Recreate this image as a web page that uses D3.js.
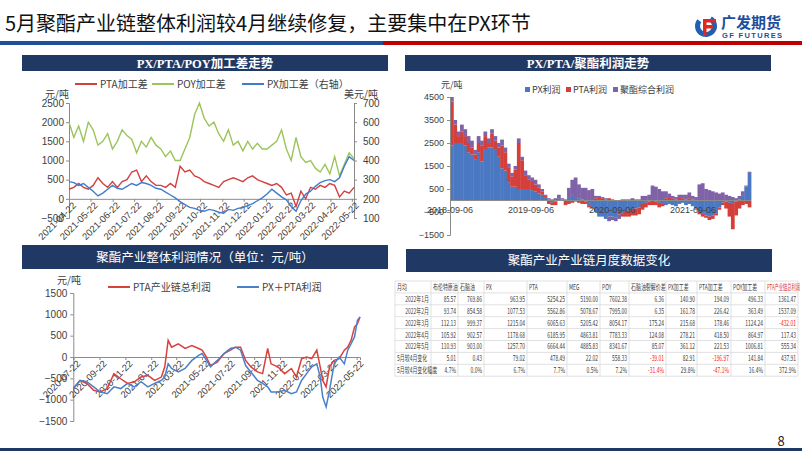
<!DOCTYPE html>
<html><head><meta charset="utf-8">
<script src="https://cdn.jsdelivr.net/npm/d3@7"></script>
<style>
body{margin:0;background:#fff;}
svg{display:block;font-family:"Noto Sans CJK SC","Noto Sans",sans-serif;}
</style></head><body>
<svg id="s" width="802" height="451"></svg>
<script>
// ---------------- DATA ----------------
const slideTitle = "5月聚酯产业链整体利润较4月继续修复，主要集中在PX环节";
const panelTitles = ["PX/PTA/POY加工差走势","PX/PTA/聚酯利润走势","聚酯产业整体利润情况（单位：元/吨）","聚酯产业产业链月度数据变化"];

// Chart 1: processing spreads (roughly weekly samples)
const c1Start = "2021-04-22", c1End = "2022-05-25";
const c1PTA = [250,300,400,300,250, 350,550,400,300,450, 300,450,500,700, 750,450,600,450,350, 350,300,400,300, 850,700,750,600,550, 450,400,350,300, 450,500,550,500,450, 550,600,500,450, 400,350,400,300,100, 150,-200,200,0, 300,250,350,300,400, 350,50,200,150,300];
const c1POY = [2000,1600,1900,1500,2000, 1800,1400,1500,1700,1300, 1500,1800,1650,1550, 1200,1500,1350,1600,1400, 1300,1100,1250,1000, 1000,1300,1600,2200,2500, 2100,1900,2000,1700, 1500,1800,1400,1500,1250, 1500,1300,1450,1300, 1300,1400,1500,1800,1300, 1000,1600,1100,950, 1000,800,700,900,650, 1100,600,900,1200,1050];
const c1PX = [290,285,270,280,260, 240,215,230,250,270, 255,250,265,280, 270,285,280,270,255, 250,235,220,205, 185,170,155,150,140, 135,145,140,130, 125,145,140,150,155, 165,175,190,205, 225,250,230,210,195, 160,135,190,225, 240,265,285,295,300, 290,310,370,420,400];
const c1XTicks = ["2021-04-22","2021-05-22","2021-06-22","2021-07-22","2021-08-22","2021-09-22","2021-10-22","2021-11-22","2021-12-22","2022-01-22","2022-02-22","2022-03-22","2022-04-22","2022-05-22"];
const c1LeftTicks = [-500,0,500,1000,1500,2000,2500];
const c1RightTicks = [100,200,300,400,500,600,700];
const c1Legend = ["PTA加工差","POY加工差","PX加工差（右轴）"];

// Chart 2: stacked profits (half-monthly samples, 2018-09 .. 2022-05)
const c2Start = "2018-09-06", c2End = "2022-05-25";
const c2PX = [2400,2500,2500,2500,2400,2100,2000,1800,
  2100,1700,2200,2300,2300,2200,1900,1400,1300,800,600,600,500,500,500,500,450,400,300,250,150,50,-100,-50,
  100,50,0,150,200,150,100,50,-50,-200,-300,-500,-700,-700,-800,-700,-700,-750,-500,-550,-500,-450,-400,-350,
  -300,-150,-100,-50,0,-50,-100,-150,-200,-150,-200,-250,-150,-100,-200,-150,-250,-350,-500,-550,-650,-700,-650,-550,
  -300,-100,-50,-100,-150,-50,50,200,600,1200];
const c2PTA = [1900,800,300,500,400,400,300,200,
  400,700,600,200,600,400,400,1000,800,650,450,750,2000,1250,600,400,400,300,250,150,50,-150,-100,-150,
  50,0,-200,-150,-100,-50,-100,-150,-100,-100,-50,100,150,100,50,100,50,0,-100,-150,-200,-250,-250,-300,
  -300,-250,-200,-150,-200,-150,-200,-100,100,150,100,50,150,100,50,100,50,-50,-100,-150,-100,-150,-150,-100,
  -100,-100,-300,-600,-1100,-600,-350,-200,-150,-300];
const c2Poly = [200,200,200,300,300,300,300,200,
  300,200,200,200,200,200,200,250,200,150,150,150,200,150,200,200,150,200,150,100,50,50,50,100,
  100,50,50,400,700,850,600,500,550,450,500,100,50,50,50,-200,-150,-150,-200,50,50,50,100,50,
  50,200,200,250,650,600,500,400,300,150,100,100,100,150,200,250,150,150,700,750,500,450,400,350,
  300,350,250,200,150,100,150,200,50,50];
const c2XTicks = ["2018-09-06","2019-09-06","2020-09-06","2021-09-06"];
const c2YTicks = [-1500,-500,500,1500,2500,3500,4500];
const c2Legend = ["PX利润","PTA利润","聚酯综合利润"];

// Chart 3: total chain profit
const c3Dates = ["2020-07-22","2020-08-07","2020-08-23","2020-09-08","2020-09-24","2020-10-10","2020-10-26","2020-11-11","2020-11-27","2020-12-13","2020-12-29","2021-01-14","2021-01-30","2021-02-15","2021-02-23","2021-03-03","2021-03-11","2021-03-27","2021-04-12","2021-04-28","2021-05-14","2021-05-22","2021-05-30","2021-06-11","2021-06-27","2021-07-13","2021-07-28","2021-08-09","2021-08-21","2021-09-02","2021-09-14","2021-09-30","2021-10-12","2021-10-24","2021-11-01","2021-11-17","2021-12-03","2021-12-19","2021-12-31","2022-01-12","2022-01-24","2022-02-05","2022-02-17","2022-02-25","2022-03-03","2022-03-11","2022-03-19","2022-03-30","2022-04-11","2022-04-23","2022-05-01","2022-05-09","2022-05-17","2022-05-24","2022-05-30"];
const c3Total = [-740,-550,-620,-780,-820,-740,-390,-510,-620,-580,-470,-430,-550,-470,-230,390,230,310,200,270,200,160,40,-200,-120,80,160,230,230,-80,-230,-350,-390,200,-160,-230,-390,-270,-470,-40,0,-40,160,-230,-550,-700,-230,-80,-40,160,230,390,700,780,940];
const c3PxPta = [-740,-550,-580,-700,-820,-860,-700,-740,-620,-700,-580,-700,-620,-550,-470,-160,-270,-350,-270,-80,40,80,-40,-230,-80,80,200,230,160,-200,-350,-550,-620,-700,-820,-820,-780,-860,-820,-550,-390,-230,-160,-470,-940,-1170,-780,-160,0,-160,160,310,470,860,940];
const c3XTicks = ["2020-07-22","2020-09-22","2020-11-22","2021-01-22","2021-03-22","2021-05-22","2021-07-22","2021-09-22","2021-11-22","2022-01-22","2022-03-22","2022-05-22"];
const c3YTicks = [-1500,-1000,-500,0,500,1000,1500];
const c3Legend = ["PTA产业链总利润","PX＋PTA利润"];

// Table
const tableHeader = ["月均","布伦特原油","石脑油","PX","PTA","MEG","POY","石脑油裂解价差","PX加工差","PTA加工差","POY加工差","PTA产业链总利润"];
const tableRows = [
 ["2022年1月","85.57","769.86","963.95","5254.25","5190.00","7602.38","6.36","140.90","194.09","496.33","1361.47"],
 ["2022年2月","93.74","854.58","1077.53","5562.86","5078.67","7995.00","6.35","161.78","226.42","363.49","1537.09"],
 ["2022年3月","112.13","999.37","1215.04","6065.63","5205.42","8054.17","175.24","215.68","178.46","1124.24","-432.01"],
 ["2022年4月","105.92","902.57","1178.68","6185.95","4863.81","7783.33","124.08","278.21","418.50","864.97","117.43"],
 ["2022年5月","110.93","903.00","1257.70","6664.44","4885.83","8341.67","85.07","361.12","221.53","1006.81","555.34"],
 ["5月较4月变化","5.01","0.43","79.02","478.49","22.02","558.33","-39.01","82.91","-196.97","141.84","437.91"],
 ["5月较4月变化幅度","4.7%","0.0%","6.7%","7.7%","0.5%","7.2%","-31.4%","29.8%","-47.1%","16.4%","372.9%"]
];

// ---------------- DRAW ----------------
const svg = d3.select("#s");
const parse = d3.timeParse("%Y-%m-%d");
const navy = "#1F3864", axisCol = "#8C8C8C", tickTxt = "#404040";
const fmtInt = d3.format("d");

// slide header
svg.append("text").attr("x",5).attr("y",31).attr("font-size",20).attr("fill","#111").text(slideTitle);
svg.append("rect").attr("x",0).attr("y",41).attr("width",383).attr("height",4).attr("fill","#1F4E9C");
svg.append("rect").attr("x",383).attr("y",41).attr("width",419).attr("height",4).attr("fill","#C00000");
svg.append("rect").attr("x",0).attr("y",448).attr("width",802).attr("height",3).attr("fill",navy);
svg.append("text").attr("x",781).attr("y",446).attr("text-anchor","middle").attr("font-size",13).attr("fill","#222").text("8");

// logo
const logo = svg.append("g");
logo.append("path").attr("d", d3.arc()({innerRadius:6, outerRadius:11, startAngle:0.55, endAngle:2*Math.PI-0.9})).attr("transform","translate(706,26)").attr("fill","#1F5FB4");
logo.append("rect").attr("x",703).attr("y",19).attr("width",13).attr("height",3.5).attr("fill","#E0281E");
logo.append("rect").attr("x",703).attr("y",25).attr("width",10).attr("height",3.5).attr("fill","#E0281E");
logo.append("rect").attr("x",703).attr("y",19).attr("width",3.5).attr("height",17).attr("fill","#E0281E");
logo.append("text").attr("x",721).attr("y",28).attr("font-size",15).attr("font-weight","bold").attr("fill","#1F4E9C").text("广发期货");
logo.append("text").attr("x",722).attr("y",38).attr("font-size",7.5).attr("font-weight","bold").attr("font-family","Liberation Sans, sans-serif").attr("fill","#1F4E9C").attr("textLength",60).text("GF FUTURES");

// panel header bars
function header(x,y,w,h,title,size,serif){
  svg.append("rect").attr("x",x).attr("y",y).attr("width",w).attr("height",h).attr("fill",navy);
  svg.append("text").attr("x",x+w/2).attr("y",y+h/2+size*0.36).attr("text-anchor","middle")
    .attr("font-size",size).attr("fill","#fff").attr("font-weight",serif?"bold":"normal")
    .attr("font-family",serif?"'Liberation Serif','Noto Sans CJK SC',serif":null).text(title);
}
header(22,55,366,16,panelTitles[0],12.5,true);
header(405,55,366,16,panelTitles[1],12.5,true);
header(22,245,366,24,panelTitles[2],12.5,false);
header(406,249,366,23,panelTitles[3],12.5,false);

function lineLegend(g,x,y,col,label){
  g.append("line").attr("x1",x).attr("x2",x+22).attr("y1",y).attr("y2",y).attr("stroke",col).attr("stroke-width",2);
  g.append("text").attr("x",x+25).attr("y",y+3.5).attr("font-size",10).attr("fill",tickTxt).text(label);
}
function styleAxis(a, fs){
  a.select(".domain").attr("stroke",axisCol); a.selectAll("line").attr("stroke",axisCol);
  a.selectAll("text").attr("font-size",fs).attr("fill",tickTxt).attr("font-family","Liberation Sans, sans-serif");
}

// ---------- Chart 1 ----------
{
  const g = svg.append("g");
  const t0 = parse(c1Start), t1 = parse(c1End);
  const n = c1PTA.length;
  const dates = c1PTA.map((_,i)=> new Date(+t0 + (t1 - t0) * i/(n-1)));
  const x = d3.scaleTime().domain([t0,t1]).range([69,354]);
  const yL = d3.scaleLinear().domain([-500,2500]).range([218,103]);
  const yR = d3.scaleLinear().domain([100,700]).range([218,103]);
  styleAxis(g.append("g").attr("transform","translate(69,0)").call(d3.axisLeft(yL).tickValues(c1LeftTicks).tickFormat(fmtInt).tickSize(3).tickPadding(2)),10);
  styleAxis(g.append("g").attr("transform","translate(354,0)").call(d3.axisRight(yR).tickValues(c1RightTicks).tickFormat(fmtInt).tickSize(3).tickPadding(6)),10);
  const y0 = yL(0);
  const xa = g.append("g").attr("transform",`translate(0,${y0})`).call(d3.axisBottom(x).tickValues(c1XTicks.map(parse)).tickSize(3).tickFormat(d3.timeFormat("%Y-%m-%d")));
  styleAxis(xa,9.5);
  xa.selectAll("text").attr("text-anchor","end").attr("dy",0).attr("transform","translate(3,3) rotate(-45)");
  const line = (ys, arr) => d3.line().x((d,i)=>x(dates[i])).y(d=>ys(d))(arr);
  g.append("path").attr("d",line(yL,c1POY)).attr("fill","none").attr("stroke","#9BC45A").attr("stroke-width",1.4);
  g.append("path").attr("d",line(yL,c1PTA)).attr("fill","none").attr("stroke","#D23F3F").attr("stroke-width",1.4);
  g.append("path").attr("d",line(yR,c1PX)).attr("fill","none").attr("stroke","#3F7DCB").attr("stroke-width",1.4);
  g.append("text").attr("x",45).attr("y",98).attr("font-size",10).attr("fill",tickTxt).text("元/吨");
  g.append("text").attr("x",344).attr("y",98).attr("font-size",10).attr("fill",tickTxt).text("美元/吨");
  lineLegend(g,75,84,"#D23F3F",c1Legend[0]);
  lineLegend(g,152,84,"#9BC45A",c1Legend[1]);
  lineLegend(g,242,84,"#3F7DCB",c1Legend[2]);
}

// ---------- Chart 2 ----------
{
  const g = svg.append("g");
  const t0 = parse(c2Start), t1 = parse(c2End);
  const n = c2PX.length;
  const data = c2PX.map((v,i)=>({date:new Date(+t0 + (t1-t0)*i/n), px:v, pta:c2PTA[i], poly:c2Poly[i]}));
  const x = d3.scaleTime().domain([t0,t1]).range([450,751]);
  const y = d3.scaleLinear().domain([-1500,4500]).range([235,97]);
  const keys = ["px","pta","poly"], cols = {px:"#4A78C2",pta:"#D43F3A",poly:"#7F62A8"};
  const series = d3.stack().keys(keys).offset(d3.stackOffsetDiverging)(data);
  const bw = (751-450)/n + 0.4;
  series.forEach(s=>{
    g.append("g").attr("fill",cols[s.key]).selectAll("rect").data(s).join("rect")
      .attr("x",d=>x(d.data.date)).attr("width",bw)
      .attr("y",d=>y(Math.max(d[0],d[1]))).attr("height",d=>Math.abs(y(d[0])-y(d[1])));
  });
  styleAxis(g.append("g").attr("transform","translate(450,0)").call(d3.axisLeft(y).tickValues(c2YTicks).tickFormat(fmtInt).tickSize(3).tickPadding(3)),9);
  g.append("line").attr("x1",450).attr("x2",751).attr("y1",y(0)).attr("y2",y(0)).attr("stroke",axisCol);
  g.selectAll(".xl").data(c2XTicks).join("text").attr("x",d=>x(parse(d))).attr("y",y(0)+12)
    .attr("text-anchor","middle").attr("font-size",9).attr("fill",tickTxt).attr("font-family","Liberation Sans, sans-serif").text(d=>d);
  g.append("text").attr("x",441).attr("y",88).attr("font-size",9).attr("fill",tickTxt).text("元/吨");
  const lx = [525,566,613];
  c2Legend.forEach((l,i)=>{
    g.append("rect").attr("x",lx[i]).attr("y",87).attr("width",5).attr("height",5).attr("fill",cols[keys[i]]);
    g.append("text").attr("x",lx[i]+7).attr("y",93).attr("font-size",9).attr("fill",tickTxt).text(l);
  });
}

// ---------- Chart 3 ----------
{
  const g = svg.append("g");
  const dates = c3Dates.map(parse);
  const x = d3.scaleTime().domain([parse("2020-07-22"),parse("2022-05-30")]).range([73.3,360]);
  const y = d3.scaleLinear().domain([-1500,1500]).range([421,293]);
  styleAxis(g.append("g").attr("transform","translate(73.3,0)").call(d3.axisLeft(y).tickValues(c3YTicks).tickFormat(fmtInt).tickSize(3).tickPadding(3)),10);
  const xa = g.append("g").attr("transform",`translate(0,${y(0)})`).call(d3.axisBottom(x).tickValues(c3XTicks.map(parse)).tickSize(3).tickFormat(d3.timeFormat("%Y-%m-%d")));
  styleAxis(xa,9.5);
  xa.selectAll("text").attr("text-anchor","end").attr("dy",0).attr("transform","translate(3,3) rotate(-45)");
  const line = arr => d3.line().x((d,i)=>x(dates[i])).y(d=>y(d))(arr);
  g.append("path").attr("d",line(c3Total)).attr("fill","none").attr("stroke","#D8413D").attr("stroke-width",1.5);
  g.append("path").attr("d",line(c3PxPta)).attr("fill","none").attr("stroke","#4A80CA").attr("stroke-width",1.5);
  g.append("text").attr("x",57).attr("y",284).attr("font-size",10).attr("fill",tickTxt).text("元/吨");
  lineLegend(g,108,287,"#D8413D",c3Legend[0]);
  lineLegend(g,237,287,"#4A80CA",c3Legend[1]);
}

// ---------- Table ----------
{
  const g = svg.append("g");
  const cx = [395,431,458,484,527,567,600,629,666,697,731,765,798];
  const top = 281, rh = 11.9, nr = tableRows.length + 1;
  const grid = "#D9D9D9";
  for (let r=0; r<=nr; r++) g.append("line").attr("x1",cx[0]).attr("x2",cx[cx.length-1]).attr("y1",top+r*rh).attr("y2",top+r*rh).attr("stroke",grid).attr("stroke-width",0.8);
  cx.forEach(v=>g.append("line").attr("x1",v).attr("x2",v).attr("y1",top).attr("y2",top+nr*rh).attr("stroke",grid).attr("stroke-width",0.8));
  const fs = 8;
  function cell(txt, x, y, anchor, col, sx){
    g.append("text").attr("transform",`translate(${x},${y}) scale(${sx||0.62},1)`).attr("text-anchor",anchor)
      .attr("font-size",fs).attr("fill",col).text(txt);
  }
  tableHeader.forEach((h,i)=> cell(h, cx[i]+2, top+rh/2+3, "start", i===11?"#E03030":tickTxt, i===11?0.53:0.62));
  tableRows.forEach((row,r)=>{
    const yy = top + (r+1)*rh + rh/2 + 3;
    row.forEach((v,c)=>{
      const neg = c>0 && v.startsWith("-");
      if (c===0 && r>=5) cell(v, cx[0]+2, yy, "start", tickTxt);
      else cell(v, cx[c+1]-2, yy, "end", neg?"#FF2020":tickTxt);
    });
  });
}
</script></body></html>
